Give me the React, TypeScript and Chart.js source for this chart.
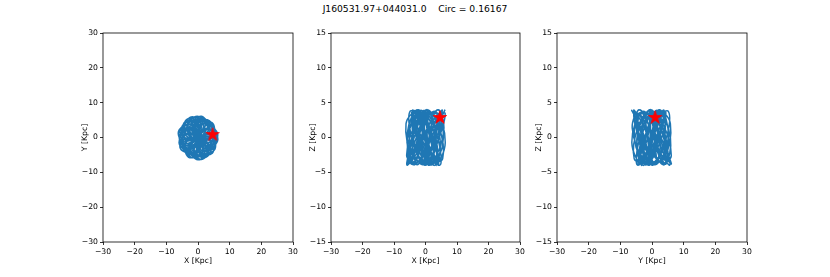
import React, { useEffect, useRef } from "react";
import { Chart, registerables } from "chart.js";

Chart.register(...registerables);

const TITLE = "J160531.97+044031.0    Circ = 0.16167";

// Orbit samples (kpc), in time order
const orbitX = [
  6.2, 3.11, -0.1, -4.2, -4.35, -0.19, 0.82, 3.37, 0.56, -2.64, -0.62, -0.59,
  3.65, 4.16, 0.48, -2.47, -5.71, -3.6, 0.15, 4.1, 5.31, 0.93, -0.15, -3.55,
  -1.55, 2.25, 0.6, 1.29, -2.96, -4.01, -0.58, 1.86, 5.55, 3.9, -0.04, -3.88,
  -5.64, -1.57, 0.57, 4.23, 2.62, -1.5, -0.2, -1.94, 1.78, 3.81, 0.5, -1.14,
  -5.54, -4.06, -0.11, 3.62, 5.86, 2.42, -0.4, -4.04, -3.62, 0.75, 0.88, 2.56,
  -0.76, -3.49, 0.05, 0.37, 4.75, 4.18, 0.29, -3.32, -5.99, -2.77, 0.26, 4.3,
  4.52, 0.0, -0.74, -3.24, -0.27, 2.97, 0.85, 0.37, -3.79, -4.28, -0.08, 2.74,
  6.24, 3.33, -0.22, -4.04, -4.91, -0.77, 0.55, 3.62, 1.38, -2.31, -0.94, -1.09,
  2.9, 4.35, 0.46, -2.03, -5.91, -3.73, 0.07, 4.04, 5.44, 1.4, -0.67, -4.16,
  -2.41, 1.65, 0.65, 1.78, -2.09, -3.99, -0.63, 1.29, 5.23, 4.01, 0.06, -3.81,
  -6.18, -2.15, 0.1, 4.0, 3.22, -0.97, -0.74, -2.47, 1.08, 3.44, 0.51, -0.58,
  -4.6, -4.26, -0.22, 3.22, 6.27, 2.83, -0.37, -4.3, -4.12, 0.18, 0.12, 3.18,
  0.0, -2.97, -0.65, -0.19, 4.06, 4.3, 0.4, -2.7, -5.88, -3.37, 0.23, 4.26,
  4.92, 0.55, -0.7, -3.52,
];
const orbitY = [
  0.0, -3.11, -0.2, -0.18, 3.99, 4.3, 0.38, -2.83, -6.37, -3.14, 0.2, 4.46,
  4.76, 0.55, -0.83, -3.52, -1.01, 2.53, 0.69, 0.91, -3.38, -4.2, -0.1, 2.05,
  5.8, 3.9, -0.08, -4.1, -5.68, -1.26, 0.69, 3.99, 2.02, -1.82, -0.75, -1.61,
  2.34, 3.79, 0.57, -1.54, -5.62, -4.14, 0.0, 3.73, 5.63, 1.99, -0.42, -4.25,
  -3.2, 1.09, 0.84, 2.31, -1.3, -3.79, -0.58, 0.71, 5.16, 4.24, 0.2, -3.33,
  -5.75, -2.68, 0.1, 4.28, 3.99, -0.37, -0.91, -3.04, 0.26, 3.02, 0.55, 0.0,
  -4.52, -4.3, -0.31, 2.97, 6.09, 3.24, -0.31, -4.18, -4.52, -0.37, 0.15, 3.57,
  0.83, -2.56, -0.82, -0.71, 3.44, 4.33, 0.35, -2.31, -6.25, -3.62, 0.17, 4.06,
  5.02, 1.17, -0.6, -3.9, -1.87, 1.94, 0.15, 1.47, -2.54, -3.85, -0.61, 1.72,
  5.82, 3.97, 0.0, -3.81, -5.73, -1.86, 0.58, 4.1, 2.73, -1.26, -0.7, -2.2,
  1.66, 3.72, 0.15, -0.89, -5.06, -4.39, -0.13, 3.52, 6.11, 2.41, -0.32, -4.36,
  -3.53, 0.56, 0.82, 2.7, -0.55, -3.37, -0.71, 0.19, 4.5, 4.1, 0.05, -3.18,
  -6.4, -2.97, 0.27, 4.4, 4.42, 0.19, -0.86, -3.22, -0.51, 2.83, 0.72, 0.56,
  -3.78, -4.16, -0.4, 2.47,
];
const orbitZ = [
  4.0, 0.86, -3.62, -2.44, 2.57, 3.55, -1.04, -4.0, -0.7, 3.7, 2.3, -2.7,
  -3.46, 1.2, 3.98, 0.52, -3.76, -2.15, 2.83, 3.37, -1.37, -3.96, -0.35, 3.82,
  2.0, -2.95, -3.28, 1.53, 3.94, 0.18, -3.86, -1.85, 3.06, 3.17, -1.69, -3.9,
  0.0, 3.9, 1.69, -3.17, -3.06, 1.85, 3.86, -0.18, -3.94, -1.53, 3.28, 2.95,
  -2.0, -3.82, 0.35, 3.96, 1.37, -3.37, -2.83, 2.15, 3.76, -0.52, -3.98, -1.2,
  3.46, 2.7, -2.3, -3.7, 0.7, 4.0, 1.04, -3.55, -2.57, 2.44, 3.62, -0.86,
  -4.0, -0.86, 3.62, 2.44, -2.57, -3.55, 1.04, 4.0, 0.7, -3.7, -2.3, 2.7,
  3.46, -1.2, -3.98, -0.52, 3.76, 2.15, -2.83, -3.37, 1.37, 3.96, 0.35, -3.82,
  -2.0, 2.95, 3.28, -1.53, -3.94, -0.18, 3.86, 1.85, -3.06, -3.17, 1.69, 3.9,
  0.0, -3.9, -1.69, 3.17, 3.06, -1.85, -3.86, 0.18, 3.94, 1.53, -3.28, -2.95,
  2.0, 3.82, -0.35, -3.96, -1.37, 3.37, 2.83, -2.15, -3.76, 0.52, 3.98, 1.2,
  -3.46, -2.7, 2.3, 3.7, -0.7, -4.0, -1.04, 3.55, 2.57, -2.44, -3.62, 0.86,
  3.9, 0.84, -3.53, -2.38, 2.51, 3.46, -1.01, -3.9, -0.68, 3.61, 2.24, -2.64,
  -3.38, 1.17, 3.88, 0.51,
];

// Current position (star)
const starPos = { x: 4.6, y: 1.0, z: 2.95 };

const panelXLimits = [-30, 30];
const panelXYLimits = [-30, 30];
const panelZLimits = [-15, 15];

const FONT = "'DejaVu Sans', sans-serif";

function makeStar(R: number): HTMLCanvasElement {
  const c = document.createElement("canvas");
  const s = Math.ceil(R * 2 + 2);
  c.width = s;
  c.height = s;
  const ctx = c.getContext("2d")!;
  const cx = s / 2;
  const cy = s / 2 + R * 0.1;
  const r = R * 0.382;
  ctx.beginPath();
  for (let i = 0; i < 10; i++) {
    const ang = -Math.PI / 2 + (i * Math.PI) / 5;
    const rad = i % 2 === 0 ? R : r;
    const px = cx + rad * Math.cos(ang);
    const py = cy + rad * Math.sin(ang);
    if (i === 0) ctx.moveTo(px, py);
    else ctx.lineTo(px, py);
  }
  ctx.closePath();
  ctx.fillStyle = "#ff0000";
  ctx.fill();
  ctx.strokeStyle = "#ff0000";
  ctx.lineWidth = 0.8;
  ctx.stroke();
  return c;
}

const framePlugin = {
  id: "frame",
  afterDraw(chart: any) {
    const { ctx, chartArea } = chart;
    ctx.save();
    ctx.strokeStyle = "#000";
    ctx.lineWidth = 0.8;
    ctx.strokeRect(chartArea.left, chartArea.top, chartArea.right - chartArea.left, chartArea.bottom - chartArea.top);
    ctx.restore();
  },
};

const fmt = (v: any) => {
  const n = Number(v);
  return n < 0 ? "\u2212" + Math.abs(n) : String(n);
};

type PanelProps = {
  left: number;
  axWidth: number;
  hs: number[];
  vs: number[];
  starH: number;
  starV: number;
  xLim: number[];
  yLim: number[];
  yStep: number;
  xLabel: string;
  yLabel: string;
};

const Y_BOX = 50;
const RIGHT_PAD = 20;
const CANVAS_TOP = 20;
const CANVAS_H = 257;
const TOP_PAD = 13;
const X_BOX = 35;

function Panel(p: PanelProps) {
  const ref = useRef<HTMLCanvasElement>(null);
  useEffect(() => {
    if (!ref.current) return;
    const pts = p.hs.map((h, i) => ({ x: h, y: p.vs[i] }));
    const star = makeStar(7);
    const tickFont = { family: FONT, size: 7.7 };
    const chart = new Chart(ref.current, {
      type: "scatter",
      data: {
        datasets: [
          {
            data: pts,
            showLine: true,
            borderColor: "#1f77b4",
            backgroundColor: "#1f77b4",
            borderWidth: 1.5,
            pointRadius: 0,
            tension: 0.4,
            order: 2,
          },
          {
            data: [{ x: p.starH, y: p.starV }],
            pointStyle: star as any,
            pointRadius: 7,
            order: 1,
          },
        ],
      },
      options: {
        animation: false,
        responsive: false,
        maintainAspectRatio: false,
        events: [],
        layout: { padding: { left: 0, right: RIGHT_PAD, top: TOP_PAD, bottom: 0 } },
        plugins: { legend: { display: false }, tooltip: { enabled: false }, title: { display: false } },
        scales: {
          x: {
            type: "linear",
            position: "bottom",
            min: p.xLim[0],
            max: p.xLim[1],
            afterFit: (s: any) => {
              s.height = X_BOX;
            },
            ticks: { stepSize: 10, font: tickFont, color: "#000", padding: 2, maxRotation: 0, callback: fmt },
            grid: { display: true, drawOnChartArea: false, drawTicks: true, tickLength: 3, tickWidth: 0.8, tickColor: "#000" },
            border: { display: false },
            title: { display: true, text: p.xLabel, font: tickFont, color: "#000", padding: { top: 0, bottom: 11.4 } },
          },
          y: {
            type: "linear",
            position: "left",
            min: p.yLim[0],
            max: p.yLim[1],
            afterFit: (s: any) => {
              s.width = Y_BOX;
            },
            ticks: { stepSize: p.yStep, font: tickFont, color: "#000", padding: 2, callback: fmt },
            grid: { display: true, drawOnChartArea: false, drawTicks: true, tickLength: 3, tickWidth: 0.8, tickColor: "#000" },
            border: { display: false },
            title: { display: true, text: p.yLabel, font: tickFont, color: "#000", padding: { top: 26.9, bottom: 0 } },
          },
        },
      },
      plugins: [framePlugin],
    } as any);
    return () => chart.destroy();
  }, []);
  const w = Y_BOX + p.axWidth + RIGHT_PAD;
  return (
    <canvas
      ref={ref}
      width={w}
      height={CANVAS_H}
      style={{ position: "absolute", left: p.left - Y_BOX, top: CANVAS_TOP, width: w, height: CANVAS_H }}
    />
  );
}

export default function App() {
  return (
    <div style={{ position: "absolute", left: 0, top: 0, width: 830, height: 277, background: "#fff", overflow: "hidden" }}>
      <div
        style={{
          position: "absolute",
          left: 0,
          top: 3.3,
          width: 830,
          textAlign: "center",
          fontFamily: FONT,
          fontSize: 9.2,
          lineHeight: "11px",
          whiteSpace: "pre",
          color: "#000",
        }}
      >
        {TITLE}
      </div>
      <Panel left={103} axWidth={190} hs={orbitX} vs={orbitY} starH={starPos.x} starV={starPos.y}
        xLim={panelXLimits} yLim={panelXYLimits} yStep={10} xLabel="X [Kpc]" yLabel="Y [Kpc]" />
      <Panel left={331} axWidth={189} hs={orbitX} vs={orbitZ} starH={starPos.x} starV={starPos.z}
        xLim={panelXLimits} yLim={panelZLimits} yStep={5} xLabel="X [Kpc]" yLabel="Z [Kpc]" />
      <Panel left={557} axWidth={190} hs={orbitY} vs={orbitZ} starH={starPos.y} starV={starPos.z}
        xLim={panelXLimits} yLim={panelZLimits} yStep={5} xLabel="Y [Kpc]" yLabel="Z [Kpc]" />
    </div>
  );
}
